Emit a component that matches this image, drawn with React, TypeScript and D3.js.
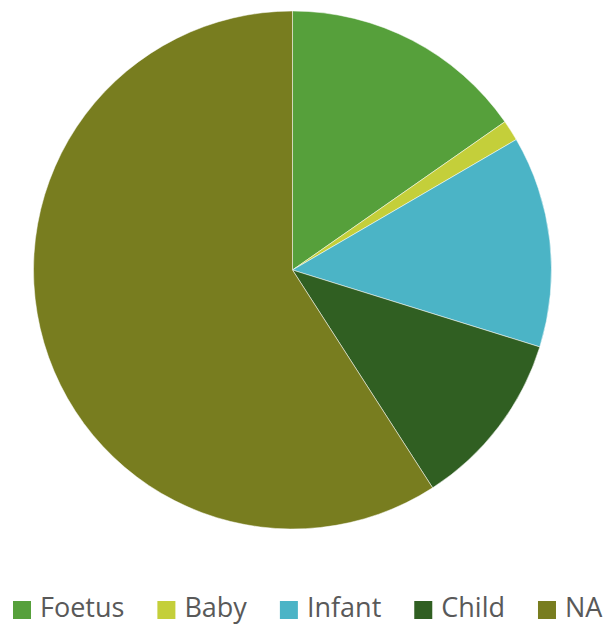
import React, { useEffect, useRef } from "react";
import * as d3 from "d3";

const categories = ["Foetus", "Baby", "Infant", "Child", "NA"];
const values = [15.3, 1.3, 13.2, 11.1, 59.1];
const colors = ["#56A03B", "#C4CF3A", "#4BB4C6", "#305F22", "#787D1F"];

const W = 605;
const H = 627;

export default function App() {
  const ref = useRef<SVGSVGElement>(null);
  useEffect(() => {
    const svg = d3.select(ref.current);
    svg.selectAll("*").remove();
    const cx = 292.5, cy = 270, r = 259;
    const pie = d3.pie<number>().sort(null).value((d) => d);
    const arc = d3.arc<d3.PieArcDatum<number>>().innerRadius(0).outerRadius(r);
    const g = svg.append("g").attr("transform", `translate(${cx},${cy})`);
    g.selectAll("path")
      .data(pie(values))
      .join("path")
      .attr("d", arc)
      .attr("fill", (_, i) => colors[i])
      .attr("stroke", "#ffffff")
      .attr("stroke-width", 0.5);

    const lg = svg.append("g");
    let x = 13;
    const baseline = 617;
    const sq = 18;
    categories.forEach((c, i) => {
      lg.append("rect")
        .attr("x", x)
        .attr("y", 601)
        .attr("width", sq)
        .attr("height", sq)
        .attr("fill", colors[i]);
      const t = lg.append("text")
        .attr("x", x + 27)
        .attr("y", baseline)
        .attr("font-family", "Open Sans")
        .attr("font-size", 27)
        .attr("fill", "#595959")
        .text(c);
      const w = (t.node() as SVGTextElement).getComputedTextLength();
      x = x + 27 + w + 33;
    });
  }, []);
  return (
    <svg ref={ref} width={W} height={H} style={{ position: "absolute", left: 0, top: 0 }} />
  );
}
